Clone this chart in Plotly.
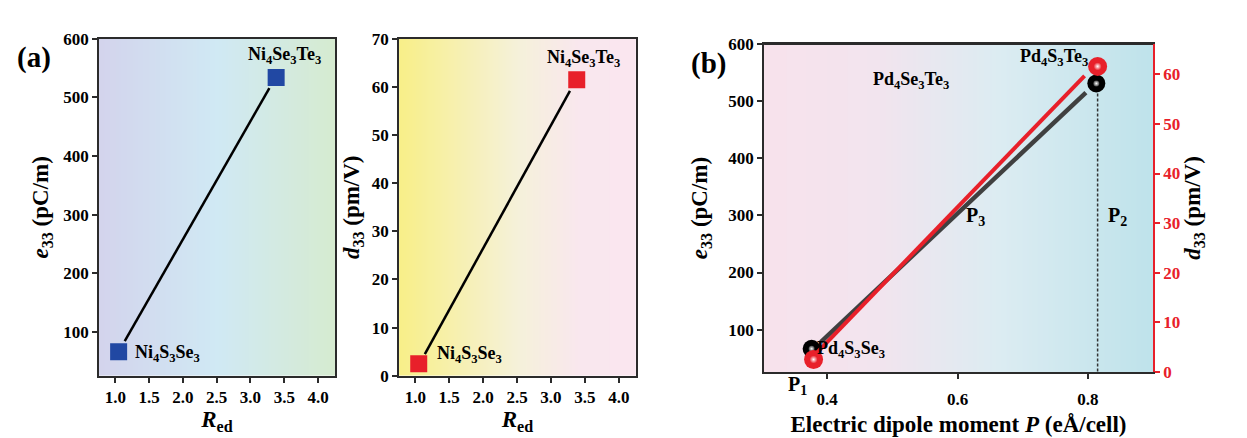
import numpy as np
import plotly.graph_objects as go

# ---------------- data ----------------
# panel (a)
red_pts = [1.05, 3.38]                 # R_ed of Ni4S3Se3, Ni4Se3Te3
e33_ni = [66, 534]                     # pC/m
d33_ni = [2.5, 61.5]                   # pm/V
fit_red = [1.14, 3.28]                 # fitted line endpoints (R_ed)
fit_e33_ni = [84, 516]
fit_d33_ni = [4.5, 59.2]
ni_labels = ["Ni<sub>4</sub>S<sub>3</sub>Se<sub>3</sub>", "Ni<sub>4</sub>Se<sub>3</sub>Te<sub>3</sub>"]

# panel (b)
P_vals = [0.376, 0.813]                # electric dipole moment (eÅ/cell)
P_vals_red = [0.379, 0.815]
e33_pd = [66.5, 531]
d33_pd = [2.5, 61.6]
fit_P = [0.39, 0.797]
fit_e33_pd = [78, 515]
fit_P_red = [0.385, 0.795]
fit_d33_pd = [4.0, 59.7]
P2_line_x = 0.815

xtick_a = [1.0, 1.5, 2.0, 2.5, 3.0, 3.5, 4.0]
ytick_e33 = [100, 200, 300, 400, 500, 600]
ytick_d33a = [0, 10, 20, 30, 40, 50, 60, 70]
xtick_b = [0.4, 0.6, 0.8]
ytick_d33b = [0, 10, 20, 30, 40, 50, 60]

FONT = "Liberation Serif"
DARK = "#2b2b2b"
BLUE = "#2148a3"
RED = "#e8202a"

fig = go.Figure()

# ---------------- background gradients ----------------
def gradient(xa, ya, x0, x1, colorscale):
    xs = np.linspace(x0, x1, 150)
    fig.add_trace(go.Heatmap(x=xs, y=[-1000, 2000], z=[xs, xs], colorscale=colorscale,
                             showscale=False, hoverinfo="skip", xaxis=xa, yaxis=ya,
                             zsmooth="best"))

gradient("x", "y", 0.7, 4.3, [[0, "#d3d3ec"], [0.5, "#d0e9f4"], [1, "#d6ebcf"]])
gradient("x2", "y2", 0.7, 4.3, [[0, "#f8ef86"], [0.5, "#f5f1da"], [0.75, "#f9e7ee"], [1, "#fae6ef"]])
gradient("x3", "y3", 0.29, 0.91, [[0, "#f8e2ec"], [0.3, "#f2e4ee"], [0.6, "#dcecf2"], [1, "#bde2ea"]])

# ---------------- panel a1 ----------------
fig.add_trace(go.Scatter(x=fit_red, y=fit_e33_ni, mode="lines", line=dict(color="black", width=2.5),
                         xaxis="x", yaxis="y", showlegend=False))
fig.add_trace(go.Scatter(x=red_pts, y=e33_ni, mode="markers",
                         marker=dict(symbol="square", size=17, color=BLUE),
                         xaxis="x", yaxis="y", showlegend=False))

# ---------------- panel a2 ----------------
fig.add_trace(go.Scatter(x=fit_red, y=fit_d33_ni, mode="lines", line=dict(color="black", width=2.5),
                         xaxis="x2", yaxis="y2", showlegend=False))
fig.add_trace(go.Scatter(x=red_pts, y=d33_ni, mode="markers",
                         marker=dict(symbol="square", size=17, color=RED),
                         xaxis="x2", yaxis="y2", showlegend=False))

# ---------------- panel b ----------------
fig.add_trace(go.Scatter(x=[P2_line_x, P2_line_x], y=[e33_pd[1], 0], mode="lines",
                         line=dict(color="#333333", width=1.5, dash="3px,2px"),
                         xaxis="x3", yaxis="y3", showlegend=False))
fig.add_trace(go.Scatter(x=fit_P, y=fit_e33_pd, mode="lines", line=dict(color="#404040", width=4.5),
                         xaxis="x3", yaxis="y3", showlegend=False))
fig.add_trace(go.Scatter(x=P_vals, y=e33_pd, mode="markers",
                         marker=dict(symbol="circle", size=18, color="black"),
                         xaxis="x3", yaxis="y3", showlegend=False))
fig.add_trace(go.Scatter(x=P_vals, y=e33_pd, mode="markers",
                         marker=dict(symbol="circle", size=6, color="#444444",
                                     gradient=dict(type="radial", color="#ffffff")),
                         xaxis="x3", yaxis="y3", showlegend=False))
fig.add_trace(go.Scatter(x=fit_P_red, y=fit_d33_pd, mode="lines", line=dict(color=RED, width=4),
                         xaxis="x3", yaxis="y4", showlegend=False))
fig.add_trace(go.Scatter(x=P_vals_red, y=d33_pd, mode="markers",
                         marker=dict(symbol="circle", size=19, color=RED),
                         xaxis="x3", yaxis="y4", showlegend=False))
fig.add_trace(go.Scatter(x=P_vals_red, y=d33_pd, mode="markers",
                         marker=dict(symbol="circle", size=8, color=RED,
                                     gradient=dict(type="radial", color="#ffffff")),
                         xaxis="x3", yaxis="y4", showlegend=False))

# ---------------- axes ----------------
tickfont = dict(family=FONT, size=17, color="black", weight="bold")
titlefont = dict(family=FONT, size=23, color="black", weight="bold")

def axis_common(color=DARK, mirror=True):
    return dict(showline=True, linecolor=color, linewidth=1.8, mirror=mirror,
                ticks="outside", ticklen=5, tickwidth=1.5, tickcolor=color,
                showgrid=False, zeroline=False, tickfont=tickfont, fixedrange=True)

fig.update_layout(
    width=1247, height=438,
    margin=dict(l=0, r=0, t=0, b=0),
    paper_bgcolor="white", plot_bgcolor="white",
    xaxis=dict(domain=[0.073, 0.2622], range=[0.76, 4.25], tickvals=xtick_a, tickformat=".1f",
               anchor="y", title=dict(text="<i>R</i><sub>ed</sub>", font=titlefont, standoff=4),
               **axis_common()),
    yaxis=dict(domain=[0.1438, 0.948], range=[25, 600], tickvals=ytick_e33, anchor="x",
               title=dict(text="<i>e</i><sub>33</sub> (pC/m)", font=titlefont, standoff=8),
               **axis_common()),
    xaxis2=dict(domain=[0.3136, 0.5034], range=[0.76, 4.25], tickvals=xtick_a, tickformat=".1f",
                anchor="y2", title=dict(text="<i>R</i><sub>ed</sub>", font=titlefont, standoff=4),
                **axis_common()),
    yaxis2=dict(domain=[0.1438, 0.948], range=[0, 70], tickvals=ytick_d33a, anchor="x2",
                title=dict(text="<i>d</i><sub>33</sub> (pm/V)", font=titlefont, standoff=6),
                **axis_common()),
    xaxis3=dict(domain=[0.6063, 0.9182], range=[0.303, 0.9], tickvals=xtick_b, tickformat=".1f",
                anchor="y3", ticklabelstandoff=6,
                title=dict(text="Electric dipole moment <i>P</i> (eÅ/cell)", font=titlefont, standoff=8),
                **axis_common()),
    yaxis3=dict(domain=[0.153, 0.9354], range=[26, 600], tickvals=ytick_e33, anchor="x3",
                title=dict(text="<i>e</i><sub>33</sub> (pC/m)", font=titlefont, standoff=14),
                **axis_common(mirror=False)),
    yaxis4=dict(range=[0, 66.1], tickvals=ytick_d33b, anchor="x3", overlaying="y3", side="right",
                title=dict(text="<i>d</i><sub>33</sub> (pm/V)", font=titlefont, standoff=3),
                **{**axis_common(color=RED, mirror=False),
                   "tickfont": dict(family=FONT, size=17, color=RED, weight="bold")}),
)

# top border of panel b
fig.add_shape(type="line", xref="x3 domain", yref="y3 domain", x0=0, x1=1, y0=1, y1=1,
              line=dict(color=DARK, width=1.8))

# ---------------- annotations ----------------
lab_font = dict(family=FONT, size=18, color="black", weight="bold")
ann = []
ann.append(dict(x=1.78, y=63, xref="x", yref="y", text=ni_labels[0], showarrow=False, font=lab_font))
ann.append(dict(x=3.51, y=571, xref="x", yref="y", text=ni_labels[1], showarrow=False, font=lab_font))
ann.append(dict(x=1.80, y=4.4, xref="x2", yref="y2", text=ni_labels[0], showarrow=False, font=lab_font))
ann.append(dict(x=3.48, y=65.9, xref="x2", yref="y2", text=ni_labels[1], showarrow=False, font=lab_font))
ann.append(dict(x=0.748, y=577, xref="x3", yref="y3", text="Pd<sub>4</sub>S<sub>3</sub>Te<sub>3</sub>",
                showarrow=False, font=lab_font))
ann.append(dict(x=0.529, y=536, xref="x3", yref="y3", text="Pd<sub>4</sub>Se<sub>3</sub>Te<sub>3</sub>",
                showarrow=False, font=lab_font))
ann.append(dict(x=0.437, y=66, xref="x3", yref="y3", text="Pd<sub>4</sub>S<sub>3</sub>Se<sub>3</sub>",
                showarrow=False, font=lab_font))
ann.append(dict(x=0.628, y=298, xref="x3", yref="y3", text="P<sub>3</sub>", showarrow=False,
                font=dict(family=FONT, size=20, color="black", weight="bold")))
ann.append(dict(x=0.846, y=298, xref="x3", yref="y3", text="P<sub>2</sub>", showarrow=False,
                font=dict(family=FONT, size=20, color="black", weight="bold")))
ann.append(dict(x=0.6335, y=0.085, xref="paper", yref="paper", text="P<sub>1</sub>", showarrow=False,
                font=dict(family=FONT, size=20, color="black", weight="bold")))
ann.append(dict(x=0.006, y=0.948, xref="paper", yref="paper", xanchor="left", text="(a)", showarrow=False,
                font=dict(family=FONT, size=29, color="black", weight="bold")))
ann.append(dict(x=0.5465, y=0.932, xref="paper", yref="paper", xanchor="left", text="(b)", showarrow=False,
                font=dict(family=FONT, size=29, color="black", weight="bold")))
fig.update_layout(annotations=ann)

fig.write_html("out.html")
